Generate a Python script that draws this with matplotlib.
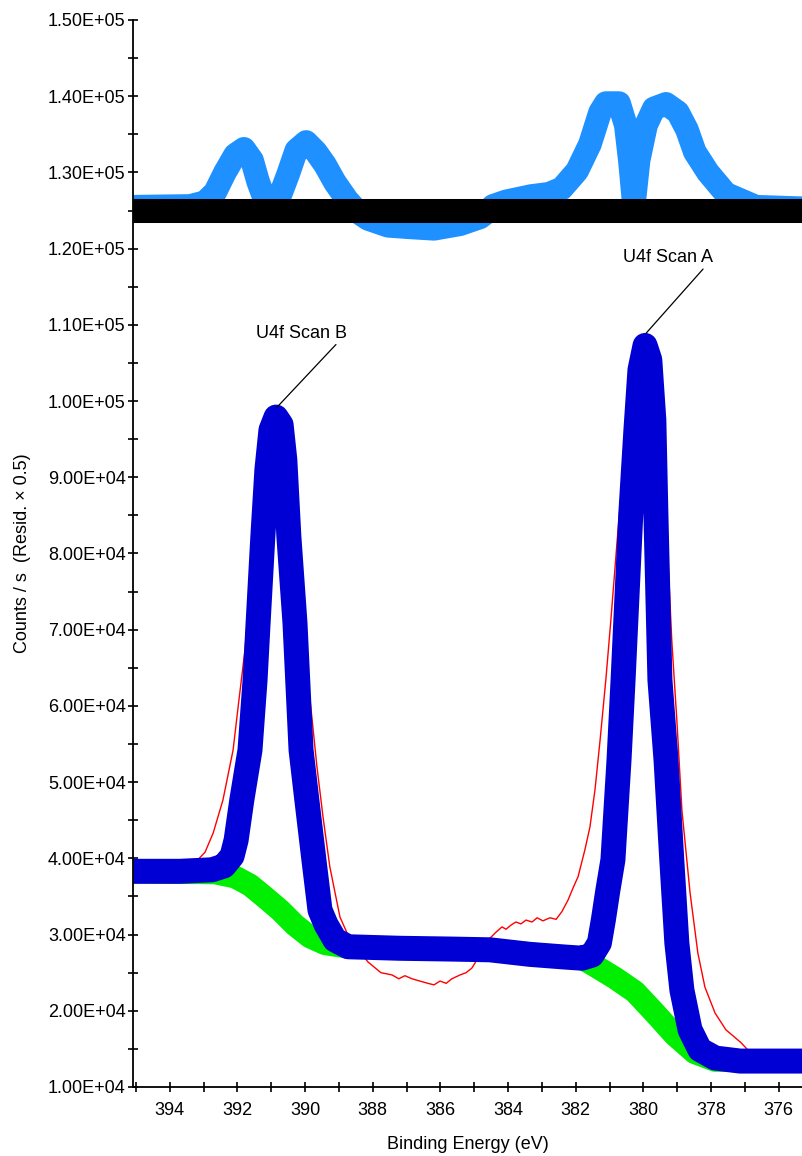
import matplotlib.pyplot as plt
from matplotlib.ticker import MultipleLocator, FormatStrFormatter

plt.rcParams['font.family'] = ['Liberation Sans', 'DejaVu Sans']

# envelope (fit)
env_ev = [395.06, 393.70, 392.75, 392.40, 392.16, 392.04, 391.87, 391.63, 391.48, 391.39,
          391.25, 391.13, 391.01, 390.86, 390.71, 390.60, 390.48, 390.30, 390.12, 389.95,
          389.74, 389.56, 389.38, 389.12, 388.73, 387.20, 385.72, 384.54, 383.35, 382.32,
          381.82, 381.52, 381.30, 381.18, 381.05, 380.90, 380.72, 380.60, 380.37, 380.22,
          380.10, 379.95, 379.81, 379.69, 379.63, 379.51, 379.33, 379.16, 379.01, 378.86,
          378.62, 378.33, 377.88, 377.14, 375.31]
env_counts = [38300, 38300, 38500, 39000, 40300, 42400, 47700, 54200, 63400, 70900,
              82200, 91000, 96200, 97900, 96900, 92300, 82200, 70900, 54200, 47700,
              39800, 33200, 31300, 29300, 28400, 28200, 28100, 28000, 27400, 27050,
              26900, 27300, 28900, 32000, 35800, 39800, 52900, 63400, 85300, 96200,
              104100, 107300, 105400, 97500, 85300, 63400, 52900, 39800, 28900, 22700,
              17500, 14900, 13800, 13400, 13400]

# background
bg_ev = [395.06, 392.66, 392.07, 391.63, 391.19, 390.74, 390.30, 389.86, 389.41, 388.82,
         387.20, 384.54, 382.32, 381.82, 381.43, 380.84, 380.25, 379.66, 379.07, 378.48,
         377.88, 375.31]
bg_counts = [38200, 38100, 37550, 36500, 34900, 33200, 31250, 29700, 28800, 28400,
             28200, 28000, 27050, 26900, 25900, 24300, 22500, 19700, 16800, 14500,
             13500, 13400]

# raw data
data_ev = [395.06, 393.26, 392.96, 392.72, 392.43, 392.13, 391.98, 391.78, 391.57, 391.33,
           391.10, 390.86, 390.62, 390.39, 390.15, 389.95, 389.80, 389.65, 389.47, 389.27,
           388.97, 388.73, 388.38, 388.14, 387.76, 387.43, 387.23, 387.05, 386.84, 386.61,
           386.37, 386.19, 386.01, 385.83, 385.66, 385.42, 385.24, 385.07, 384.89, 384.71,
           384.54, 384.36, 384.18, 384.06, 383.91, 383.77, 383.62, 383.47, 383.29, 383.14,
           382.97, 382.76, 382.58, 382.41, 382.23, 382.08, 381.93, 381.73, 381.58, 381.43,
           381.28, 381.11, 380.96, 380.75, 380.52, 380.25, 379.95, 379.69, 379.45, 379.27,
           379.16, 379.01, 378.86, 378.62, 378.39, 378.18, 377.88, 377.56, 377.32, 377.11,
           376.91, 375.31]
data_counts = [39400, 39400, 40800, 43300, 47650, 54200, 59900, 67300, 79100, 89600,
               96200, 97800, 96200, 87000, 73900, 64700, 58500, 52000, 45400, 38900,
               32300, 29900, 27700, 26400, 25000, 24700, 24200, 24600, 24200, 23900,
               23600, 23400, 23900, 23600, 24200, 24700, 25000, 25600, 26900, 28600,
               29500, 30300, 31000, 30700, 31250, 31650, 31400, 31900, 31650, 32200,
               31800, 32200, 32000, 33000, 34500, 36100, 37600, 41100, 44100, 49000,
               55500, 63400, 71300, 83100, 94900, 104100, 107000, 104100, 93600, 79100,
               68600, 58100, 46300, 35500, 27600, 23100, 19700, 17500, 16600, 15800,
               14850, 14600]

# residual (x 0.5, offset)
resid_ev = [395.06, 393.40, 392.96, 392.66, 392.37, 392.07, 391.81, 391.57, 391.39, 391.24,
            390.98, 390.72, 390.50, 390.26, 389.97, 389.68, 389.41, 389.12, 388.76, 388.44,
            388.14, 387.55, 386.93, 386.19, 385.42, 384.83, 384.59, 384.45, 384.06, 383.32,
            382.79, 382.41, 381.96, 381.58, 381.28, 381.11, 380.72, 380.52, 380.40, 380.28,
            380.14, 379.92, 379.69, 379.33, 378.98, 378.71, 378.48, 378.09, 377.56, 376.67,
            375.31]
resid_counts = [125500, 125600, 126100, 127400, 130000, 132300, 133100, 131600, 128800, 127000,
                125700, 127200, 129800, 132900, 134000, 132700, 131000, 128700, 126400, 124800,
                123900, 123000, 122800, 122600, 123200, 124100, 124900, 125600, 126200, 126900,
                127200, 127900, 130200, 133700, 137900, 139100, 139100, 136200, 131600, 125800,
                131600, 136200, 138400, 139000, 137900, 135600, 132700, 130000, 127200, 125500,
                125300]
resid_zero = 125000

peak_labels = ['U4f Scan B', 'U4f Scan A']
peak_ev = [390.83, 379.92]
peak_counts = [99200, 108900]
label_ev = [390.12, 379.27]
label_counts = [108900, 118800]

fig = plt.figure(figsize=(8.02, 11.56), dpi=100)
ax = fig.add_axes([0.1662, 0.0597, 0.8338, 0.9230])

ax.plot(bg_ev, bg_counts, color='#00ee00', lw=16.5, solid_joinstyle='round')
ax.plot(data_ev, data_counts, color='#ff0000', lw=1)
ax.plot(env_ev, env_counts, color='#0000d4', lw=18, solid_joinstyle='round')
ax.plot(resid_ev, resid_counts, color='#1e90ff', lw=17, solid_joinstyle='round')
ax.axhline(resid_zero, color='black', lw=17.3)

for lab, px, py, tx, ty in zip(peak_labels, peak_ev, peak_counts, label_ev, label_counts):
    ax.annotate(lab, xy=(px, py), xytext=(tx, ty), ha='center', va='center', fontsize=13,
                arrowprops=dict(arrowstyle='-', color='black', lw=0.9,
                                relpos=(1.0, 0.5), shrinkA=0, shrinkB=0))

ax.set_xlim(395.08, 375.31)
ax.set_ylim(10000, 150000)
ax.xaxis.set_major_locator(MultipleLocator(2))
ax.xaxis.set_minor_locator(MultipleLocator(1))
ax.yaxis.set_major_locator(MultipleLocator(10000))
ax.yaxis.set_minor_locator(MultipleLocator(5000))
ax.yaxis.set_major_formatter(FormatStrFormatter('%.2E'))
ax.tick_params(which='both', direction='inout', length=7, width=1.2)
ax.tick_params(axis='x', labelsize=13, pad=7)
ax.tick_params(axis='y', labelsize=13, pad=2)

for s in ['top', 'right']:
    ax.spines[s].set_visible(False)
for s in ['left', 'bottom']:
    ax.spines[s].set_linewidth(1.3)

ax.set_xlabel('Binding Energy (eV)', fontsize=13, va='center')
ax.set_ylabel('Counts / s  (Resid. \u00d7 0.5)', fontsize=13, va='center')
ax.xaxis.set_label_coords(0.5, -0.054)
ax.yaxis.set_label_coords(-0.166, 0.5)

plt.savefig('out.png', dpi=100)
